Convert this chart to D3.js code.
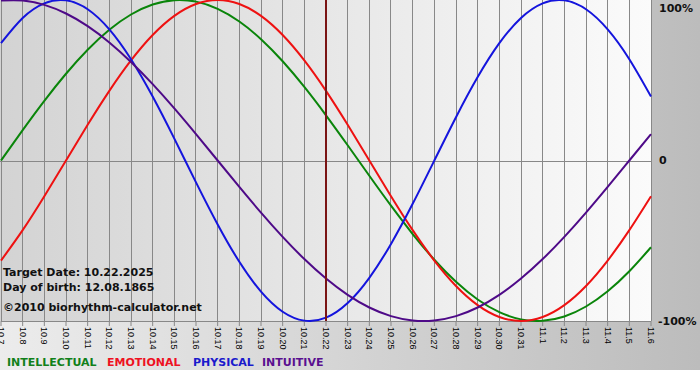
<!DOCTYPE html>
<html><head><meta charset="utf-8">
<script src="https://cdn.jsdelivr.net/npm/d3@7"></script>
<style>body{margin:0;background:#fff}svg{display:block}</style>
</head><body>
<svg id="c" width="700" height="380"></svg>
<script>
// ---- data ----
const dateLabels = ["10.7","10.8","10.9","10.10","10.11","10.12","10.13","10.14","10.15","10.16","10.17","10.18","10.19","10.20","10.21","10.22","10.23","10.24","10.25","10.26","10.27","10.28","10.29","10.30","10.31","11.1","11.2","11.3","11.4","11.5","11.6"];
const intellectual = [0,0.1893,0.3717,0.5406,0.6901,0.8146,0.9096,0.9718,0.9989,0.9898,0.9450,0.8660,0.7557,0.6182,0.4582,0.2817,0.0951,-0.0951,-0.2817,-0.4582,-0.6182,-0.7557,-0.8660,-0.9450,-0.9898,-0.9989,-0.9718,-0.9096,-0.8146,-0.6901,-0.5406];
const emotional = [-0.6235,-0.4339,-0.2225,0,0.2225,0.4339,0.6235,0.7818,0.9010,0.9749,1,0.9749,0.9010,0.7818,0.6235,0.4339,0.2225,0,-0.2225,-0.4339,-0.6235,-0.7818,-0.9010,-0.9749,-1,-0.9749,-0.9010,-0.7818,-0.6235,-0.4339,-0.2225];
const physical = [0.7308,0.8879,0.9791,0.9977,0.9423,0.8170,0.6311,0.3984,0.1362,-0.1362,-0.3984,-0.6311,-0.8170,-0.9423,-0.9977,-0.9791,-0.8879,-0.7308,-0.5196,-0.2698,0,0.2698,0.5196,0.7308,0.8879,0.9791,0.9977,0.9423,0.8170,0.6311,0.3984];
const intuitive = [0.9966,0.9966,0.9694,0.9158,0.8372,0.7357,0.6142,0.4759,0.3247,0.1646,0,-0.1646,-0.3247,-0.4759,-0.6142,-0.7357,-0.8372,-0.9158,-0.9694,-0.9966,-0.9966,-0.9694,-0.9158,-0.8372,-0.7357,-0.6142,-0.4759,-0.3247,-0.1646,0,0.1646];
const seriesNames = ["INTELLECTUAL","EMOTIONAL","PHYSICAL","INTUITIVE"];
const seriesColors = ["#0a850a","#ee1111","#1414dd","#4e0a88"];
const legendColors = ["#11801a","#ee1122","#1a1acc","#5a1090"];
const targetIndex = 15;
const infoLines = ["Target Date: 10.22.2025","Day of birth: 12.08.1865","©2010 biorhythm-calculator.net"];
const yTickValues = [1,0,-1];
const yTickLabels = ["100%","0","-100%"];

// ---- layout ----
const svg = d3.select("#c");
const L = 1, R = 651, T = 0, B = 321;
const x = d3.scaleLinear().domain([0, dateLabels.length-1]).range([L, R]);
const y = d3.scaleLinear().domain([-1, 1]).range([B, T]);
const px = v => Math.round(v) + 0.5;

const defs = svg.append("defs");
const g1 = defs.append("linearGradient").attr("id","outer").attr("x1","0").attr("x2","1").attr("y1","0").attr("y2","0");
g1.append("stop").attr("offset","0").attr("stop-color","#ececec");
g1.append("stop").attr("offset","1").attr("stop-color","#bcbcbc");
const g2 = defs.append("linearGradient").attr("id","plot").attr("x1","0").attr("x2","1").attr("y1","0").attr("y2","0");
g2.append("stop").attr("offset","0").attr("stop-color","#d3d3d3");
g2.append("stop").attr("offset","1").attr("stop-color","#fbfbfb");
defs.append("clipPath").attr("id","clip").append("rect").attr("x",0).attr("y",0).attr("width",R+1).attr("height",B+1);

svg.append("rect").attr("x",0).attr("y",0).attr("width",700).attr("height",370).attr("fill","url(#outer)");
svg.append("rect").attr("x",0).attr("y",0).attr("width",R).attr("height",B).attr("fill","url(#plot)");

// vertical grid
svg.append("g").selectAll("line").data(dateLabels).join("line")
  .attr("x1",(d,i)=>px(x(i)-0.5)).attr("x2",(d,i)=>px(x(i)-0.5))
  .attr("y1",0).attr("y2",B)
  .attr("stroke","#888").attr("stroke-width",1);
// zero line
svg.append("line").attr("x1",0).attr("x2",R).attr("y1",px(y(0))).attr("y2",px(y(0)))
  .attr("stroke","#888");

// x axis
const ax = svg.append("g").attr("transform",`translate(-0.5,${B})`)
  .call(d3.axisBottom(x).tickValues(d3.range(dateLabels.length)).tickFormat(i=>dateLabels[i]).tickSize(5).tickSizeOuter(0));
ax.select(".domain").attr("stroke","#888");
ax.selectAll(".tick line").attr("stroke","#888");
ax.selectAll(".tick text")
  .attr("transform","rotate(90)").attr("x",6).attr("y",0).attr("dy","0.35em")
  .style("text-anchor","start")
  .attr("fill","#000")
  .style("font-family","'Liberation Sans', Arial, sans-serif").style("font-size","9px");

// y labels
svg.append("g").selectAll("text").data(yTickValues).join("text")
  .attr("x",(d)=> d<0 ? 658 : 659).attr("y",d=>y(d)).attr("dy","0.36em")
  .attr("font-family","'DejaVu Sans', Verdana, sans-serif").attr("font-weight","bold").attr("font-size","11px")
  .attr("fill","#111")
  .attr("transform",(d)=> d===1 ? "translate(0,8)" : null)
  .text((d,i)=>yTickLabels[i]);

// curves
const line = d3.line().x((d,i)=>x(i)).y(d=>y(d)).curve(d3.curveNatural);
const allSeries = [intellectual, emotional, physical, intuitive];
const cg = svg.append("g").attr("clip-path","url(#clip)");
cg.selectAll("path").data(allSeries).join("path")
  .attr("d", line).attr("fill","none")
  .attr("stroke",(d,i)=>seriesColors[i]).attr("stroke-width",2);

// target line
svg.append("line").attr("x1",x(targetIndex)).attr("x2",x(targetIndex)).attr("y1",0).attr("y2",B)
  .attr("stroke","#7a1414").attr("stroke-width",2);

// info text
svg.append("g").selectAll("text").data(infoLines).join("text")
  .attr("x",3).attr("y",(d,i)=>[276,291,311][i])
  .attr("font-family","'DejaVu Sans', Verdana, sans-serif").attr("font-weight","bold").attr("font-size","11px")
  .attr("fill","#111").text(d=>d);

// legend
const legX = [7,107,193,262];
svg.append("g").selectAll("text").data(seriesNames).join("text")
  .attr("x",(d,i)=>legX[i]).attr("y",366)
  .attr("font-family","'DejaVu Sans', Verdana, sans-serif").attr("font-weight","bold").attr("font-size","11px")
  .attr("fill",(d,i)=>legendColors[i]).text(d=>d);
</script>
</body></html>
